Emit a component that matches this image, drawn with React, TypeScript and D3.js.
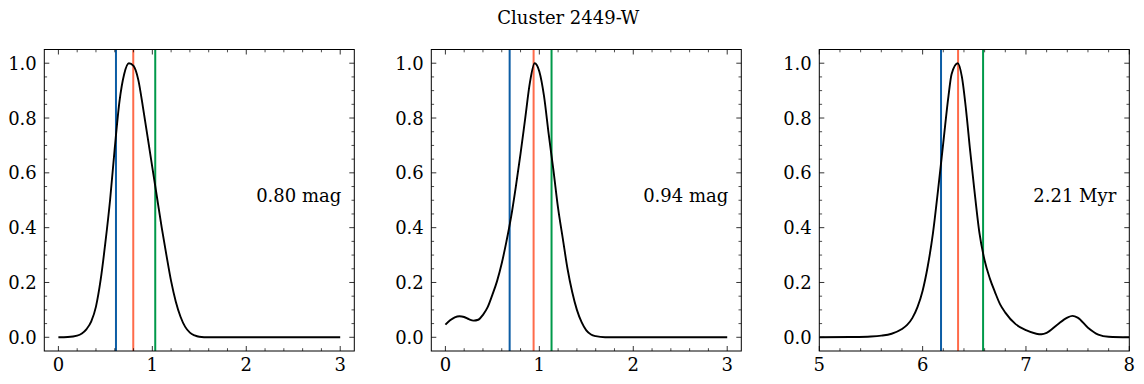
import React from "react";
import * as d3 from "d3";

const TITLE = "Cluster 2449-W";

// Panel 1 (magnitude)
const p1X = [0, 0.1, 0.2, 0.25, 0.3, 0.35, 0.4, 0.45, 0.5, 0.55, 0.6, 0.65, 0.7, 0.75, 0.8, 0.85, 0.9, 0.95, 1.0, 1.05, 1.1, 1.15, 1.2, 1.25, 1.3, 1.35, 1.4, 1.45, 1.5, 1.6, 2.0, 2.5, 3.0];
const p1Y = [0, 0.001, 0.006, 0.014, 0.03, 0.058, 0.112, 0.21, 0.345, 0.5, 0.69, 0.86, 0.96, 1.0, 0.99, 0.94, 0.84, 0.73, 0.62, 0.51, 0.4, 0.3, 0.205, 0.13, 0.075, 0.038, 0.017, 0.007, 0.002, 0, 0, 0, 0];
const p1Lines = [0.613, 0.797, 1.031];
const p1Label = "0.80 mag";

// Panel 2 (magnitude)
const p2X = [0, 0.05, 0.1, 0.15, 0.2, 0.25, 0.3, 0.35, 0.4, 0.45, 0.5, 0.55, 0.6, 0.65, 0.7, 0.75, 0.8, 0.85, 0.9, 0.95, 1.0, 1.05, 1.1, 1.15, 1.2, 1.25, 1.3, 1.35, 1.4, 1.45, 1.5, 1.55, 1.6, 1.7, 2.0, 2.5, 3.0];
const p2Y = [0.046, 0.062, 0.073, 0.077, 0.074, 0.066, 0.061, 0.064, 0.082, 0.11, 0.155, 0.205, 0.27, 0.35, 0.44, 0.55, 0.67, 0.8, 0.93, 1.0, 0.97, 0.88, 0.74, 0.61, 0.47, 0.36, 0.25, 0.165, 0.1, 0.055, 0.025, 0.01, 0.004, 0, 0, 0, 0];
const p2Lines = [0.684, 0.939, 1.13];
const p2Label = "0.94 mag";

// Panel 3 (log age)
const p3X = [5.0, 5.3, 5.5, 5.6, 5.7, 5.8, 5.85, 5.9, 5.95, 6.0, 6.05, 6.1, 6.15, 6.2, 6.25, 6.28, 6.34, 6.38, 6.42, 6.46, 6.5, 6.55, 6.6, 6.65, 6.7, 6.75, 6.8, 6.9, 7.0, 7.1, 7.15, 7.2, 7.3, 7.4, 7.45, 7.5, 7.6, 7.7, 7.8, 8.0];
const p3Y = [0, 0.001, 0.003, 0.006, 0.013, 0.03, 0.045, 0.07, 0.11, 0.17, 0.26, 0.38, 0.54, 0.71, 0.88, 0.96, 1.0, 0.95, 0.83, 0.68, 0.54, 0.38, 0.28, 0.215, 0.165, 0.12, 0.09, 0.048, 0.026, 0.013, 0.011, 0.016, 0.045, 0.072, 0.078, 0.072, 0.035, 0.01, 0.002, 0];
const p3Lines = [6.178, 6.343, 6.585];
const p3Label = "2.21 Myr";

const LINE_COLORS = ["#0C5DA5", "#FF6B4A", "#00994A"];
const Y_TICKS = [0, 0.2, 0.4, 0.6, 0.8, 1.0];

const FONT = "DejaVu Serif, serif";
const FS = 18;
const W = 1144;
const H = 384;
const TOP = 49.5;
const BOTTOM = 351;
const PW = 310;

type PanelProps = {
  left: number;
  xs: number[];
  ys: number[];
  domain: [number, number];
  xTicks: number[];
  xMinorStep: number;
  vlines: number[];
  label: string;
};

function Panel({ left, xs, ys, domain, xTicks, xMinorStep, vlines, label }: PanelProps) {
  const x = d3.scaleLinear().domain(domain).range([left, left + PW]);
  const y = d3.scaleLinear().domain([-0.05, 1.05]).range([BOTTOM, TOP]);
  const pts = xs.map((v, i) => [v, ys[i]] as [number, number]);
  const line = d3
    .line<[number, number]>()
    .x((d) => x(d[0]))
    .y((d) => y(d[1]))
    .curve(d3.curveMonotoneX);

  const xMinor: number[] = [];
  const start = Math.ceil(domain[0] / xMinorStep) * xMinorStep;
  for (let v = start; v <= domain[1] + 1e-9; v += xMinorStep) {
    const r = Math.round(v * 1000) / 1000;
    if (!xTicks.some((t) => Math.abs(t - r) < 1e-6)) xMinor.push(r);
  }
  const yMinor: number[] = [];
  for (let v = -0.05; v <= 1.05 + 1e-9; v += 0.05) {
    const r = Math.round(v * 1000) / 1000;
    if (!Y_TICKS.some((t) => Math.abs(t - r) < 1e-6) && r > -0.05 + 1e-6 && r < 1.05 - 1e-6) yMinor.push(r);
  }
  const MAJ = 5;
  const MIN = 2.8;
  const right = left + PW;

  return (
    <g>
      <defs>
        <clipPath id={`clip-${left}`}>
          <rect x={left} y={TOP} width={PW} height={BOTTOM - TOP} />
        </clipPath>
      </defs>
      <g clipPath={`url(#clip-${left})`}>
        {vlines.map((v, i) => (
          <line key={i} x1={x(v)} x2={x(v)} y1={TOP} y2={BOTTOM} stroke={LINE_COLORS[i]} strokeWidth={2} />
        ))}
        <path d={line(pts) || ""} fill="none" stroke="#000" strokeWidth={1.9} />
      </g>
      {xTicks.map((t) => (
        <g key={`xt${t}`}>
          <line x1={x(t)} x2={x(t)} y1={BOTTOM} y2={BOTTOM - MAJ} stroke="#000" strokeWidth={0.8} />
          <line x1={x(t)} x2={x(t)} y1={TOP} y2={TOP + MAJ} stroke="#000" strokeWidth={0.8} />
          <text x={x(t)} y={370.5} textAnchor="middle" fontFamily={FONT} fontSize={FS} fill="#000">
            {String(t)}
          </text>
        </g>
      ))}
      {xMinor.map((t) => (
        <g key={`xm${t}`}>
          <line x1={x(t)} x2={x(t)} y1={BOTTOM} y2={BOTTOM - MIN} stroke="#000" strokeWidth={0.7} />
          <line x1={x(t)} x2={x(t)} y1={TOP} y2={TOP + MIN} stroke="#000" strokeWidth={0.7} />
        </g>
      ))}
      {Y_TICKS.map((t) => (
        <g key={`yt${t}`}>
          <line x1={left} x2={left + MAJ} y1={y(t)} y2={y(t)} stroke="#000" strokeWidth={0.8} />
          <line x1={right} x2={right - MAJ} y1={y(t)} y2={y(t)} stroke="#000" strokeWidth={0.8} />
          <text x={left - 7.5} y={y(t)} dy="0.36em" textAnchor="end" fontFamily={FONT} fontSize={FS} fill="#000">
            {t.toFixed(1)}
          </text>
        </g>
      ))}
      {yMinor.map((t) => (
        <g key={`ym${t}`}>
          <line x1={left} x2={left + MIN} y1={y(t)} y2={y(t)} stroke="#000" strokeWidth={0.7} />
          <line x1={right} x2={right - MIN} y1={y(t)} y2={y(t)} stroke="#000" strokeWidth={0.7} />
        </g>
      ))}
      <rect x={left} y={TOP} width={PW} height={BOTTOM - TOP} fill="none" stroke="#000" strokeWidth={1} />
      <text x={left + PW * 0.958} y={201.5} textAnchor="end" fontFamily={FONT} fontSize={FS} fill="#000">
        {label}
      </text>
    </g>
  );
}

export default function App() {
  return (
    <svg width={W} height={H} style={{ position: "absolute", left: 0, top: 0, display: "block", background: "#fff" }}>
      <rect x={0} y={0} width={W} height={H} fill="#fff" />
      <text x={568.3} y={24} textAnchor="middle" fontFamily={FONT} fontSize={FS} fill="#000">
        {TITLE}
      </text>
      <Panel left={44.3} xs={p1X} ys={p1Y} domain={[-0.15, 3.15]} xTicks={[0, 1, 2, 3]} xMinorStep={0.2} vlines={p1Lines} label={p1Label} />
      <Panel left={431.3} xs={p2X} ys={p2Y} domain={[-0.15, 3.15]} xTicks={[0, 1, 2, 3]} xMinorStep={0.2} vlines={p2Lines} label={p2Label} />
      <Panel left={819.3} xs={p3X} ys={p3Y} domain={[5, 8]} xTicks={[5, 6, 7, 8]} xMinorStep={0.2} vlines={p3Lines} label={p3Label} />
    </svg>
  );
}
